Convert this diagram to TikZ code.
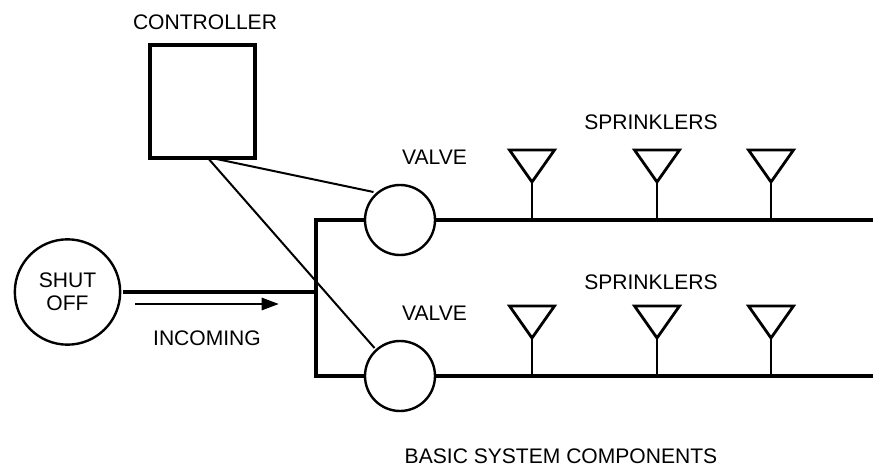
\documentclass[tikz,border=0pt]{standalone}
\usepackage{fontspec}
\setmainfont{Liberation Sans}
\usetikzlibrary{arrows.meta}
\tikzset{x=0.75pt,y=-0.75pt,
  lbl/.style={font=\fontsize{15.8pt}{17.5pt}\selectfont,inner sep=0,align=center},
  wire/.style={line width=2.4pt},
  valve/.style={circle,draw,line width=1.8pt,minimum size=52.5pt,inner sep=0},
  shut/.style={circle,draw,line width=1.8pt,minimum size=79pt,inner sep=0,align=center,font=\fontsize{15.8pt}{17.5pt}\selectfont},
  ctrl/.style={rectangle,draw,line width=3pt,minimum width=79pt,minimum height=85pt,inner sep=0},
  spr/.style={line width=2.1pt,line join=miter}}
\begin{document}
\begin{tikzpicture}
\useasboundingbox (0,0) rectangle (873,466);
\node[lbl] (lc) at (205,22) {CONTROLLER};
\node[ctrl] (c) at (202.5,101.5) {};
\node[lbl] (ls1) at (651,122) {SPRINKLERS};
\node[lbl] (ls2) at (651,282) {SPRINKLERS};
\node[lbl] (lv1) at (434.5,157) {VALVE};
\node[lbl] (lv2) at (434.5,313) {VALVE};
\node[lbl] (li) at (207,338) {INCOMING};
\node[lbl] (lb) at (561,456) {BASIC SYSTEM COMPONENTS};
\node[valve] (v1) at (400,220) {};
\node[valve] (v2) at (400,376) {};
\node[shut] (s) at (67.5,292) {SHUT\\OFF};
\coordinate (e1) at (873,220);
\coordinate (e2) at (873,376);
\coordinate (j1) at (316,220);
\coordinate (j2) at (316,376);
\coordinate (jm) at (316,292);
\coordinate (s0) at (123,292);
\coordinate (a1) at (135,304);
\coordinate (a2) at (279,304);
\coordinate (cb) at (207,157);
\coordinate (t1) at (373.5,192);
\coordinate (t2) at (374.5,348);
\draw[wire] (v1.east) -- (e1);
\draw[wire] (v2.east) -- (e2);
\draw[wire] (v1.west) -- (j1) -- (j2) -- (v2.west);
\draw[wire] (s0) -- (jm);
\draw[line width=2.2pt,-{Triangle[length=13pt,width=9pt]}] (a1) -- (a2);
\draw[line width=1.5pt] (cb) -- (t1);
\draw[line width=1.5pt] (cb) -- (t2);
\foreach \x/\y/\b in {532/150/220,657/150/220,771/150/220,532/306/376,657/306/376,771/306/376}{
  \draw[spr] (\x-22.5,\y) -- (\x+22.5,\y) -- (\x,\y+32) -- cycle;
  \draw[spr] (\x,\y+32) -- (\x,\b);
}
\end{tikzpicture}
\end{document}
